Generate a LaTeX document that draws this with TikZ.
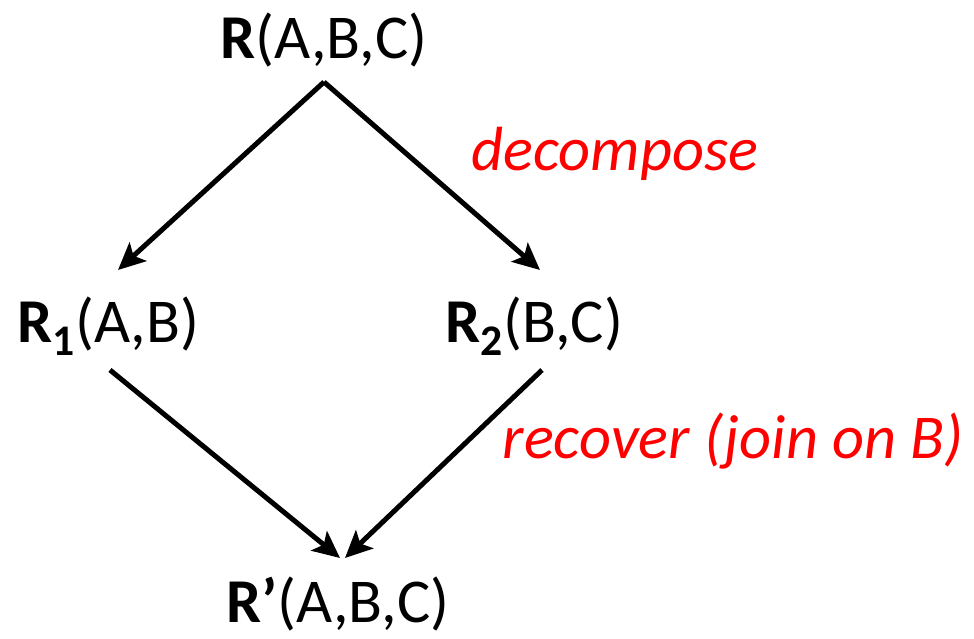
\documentclass[tikz,border=0pt]{standalone}
\usepackage{fontspec}
\setmainfont{Carlito}
\usepackage{xcolor}
\usetikzlibrary{arrows.meta, calc}

\begin{document}
\begin{tikzpicture}[
    x=0.02cm, y=-0.02cm,
    rel/.style={inner sep=0pt, anchor=base, font=\fontsize{35.5}{42}\selectfont},
    note/.style={inner sep=0pt, anchor=base, text=red, font=\fontsize{35.5}{42}\selectfont\itshape},
    arrow/.style={-{Stealth[length=0.54cm, width=0.5cm, inset=0.12cm]}, line width=0.1cm}
]
\useasboundingbox (0,0) rectangle (974,639);

% Relations
\node[rel] (r) at (324,58) {\textbf{R}(A,B,C)};
\node[rel] (r1) at (108,342) {\textbf{R\textsubscript{1}}(A,B)};
\node[rel] (r2) at (534,342) {\textbf{R\textsubscript{2}}(B,C)};
\node[rel] (rp) at (338,622) {\textbf{R’}(A,B,C)};

% Labels
\node[note] (dec) at (615,170) {decompose};
\node[note] (rec) at (733,458) {recover (join on B)};

% Arrows - decompose
\draw[arrow] ($(r.base)+(0,24)$) -- ($(r1.base)+(10,-72)$);
\draw[arrow] ($(r.base)+(0,24)$) -- ($(r2.base)+(6,-72)$);

% Arrows - recover
\draw[arrow] ($(r1.base)+(2,28)$) -- ($(rp.base)+(2,-64)$);
\draw[arrow] ($(r2.base)+(8,28)$) -- ($(rp.base)+(7,-64)$);

\end{tikzpicture}
\end{document}
